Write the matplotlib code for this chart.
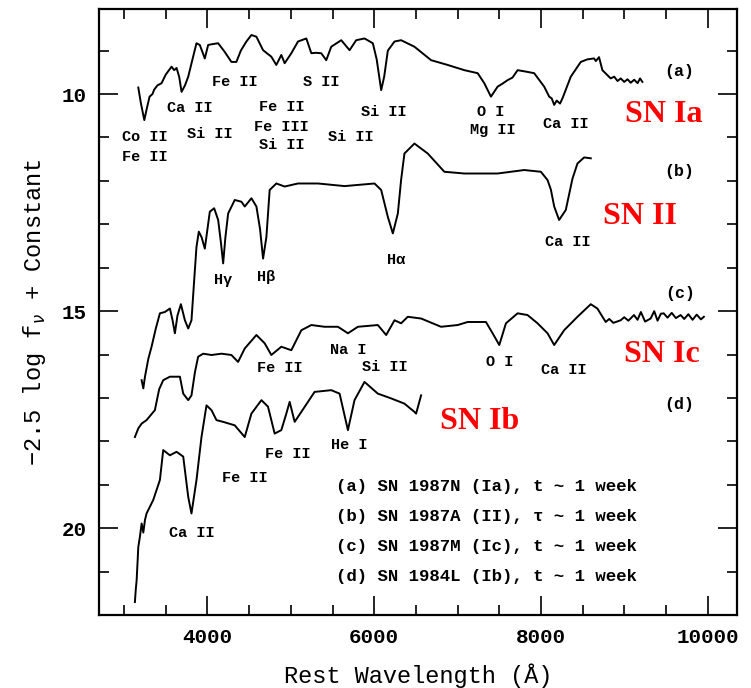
import matplotlib
matplotlib.use("Agg")
import matplotlib.pyplot as plt
from matplotlib.ticker import MultipleLocator

# ── Spectra (rest wavelength in Å, -2.5 log f_nu + const) ──────────────────────
wave_a = [3170, 3200, 3242, 3270, 3305, 3340, 3360, 3400, 3449, 3500, 3569, 3600,
          3629, 3660, 3689, 3730, 3769, 3820, 3868, 3908, 3968, 4008, 4060, 4128,
          4207, 4287, 4347, 4400, 4467, 4527, 4587, 4667, 4766, 4826, 4886, 4926,
          5006, 5086, 5186, 5246, 5300, 5365, 5425, 5485, 5605, 5705, 5784, 5884,
          5984, 6030, 6084, 6120, 6164, 6244, 6323, 6483, 6683, 6882, 7082, 7242,
          7321, 7401, 7481, 7540, 7601, 7660, 7721, 7840, 7920, 8040, 8100, 8130,
          8160, 8190, 8230, 8259, 8359, 8479, 8560, 8638, 8660, 8698, 8738, 8790,
          8838, 8880, 8920, 8958, 9000, 9040, 9078, 9120, 9160, 9190, 9218]
flux_a = [9.85, 10.2, 10.6, 10.35, 10.06, 10.0, 9.9, 9.8, 9.75, 9.55, 9.37, 9.45,
          9.4, 9.6, 9.95, 9.8, 9.6, 9.2, 8.83, 8.87, 9.18, 8.87, 8.85, 8.83,
          9.03, 9.26, 9.26, 9.0, 8.79, 8.64, 8.68, 8.99, 9.14, 9.33, 9.1, 9.29,
          9.06, 8.79, 8.72, 9.06, 9.05, 9.06, 9.22, 8.91, 8.76, 8.99, 8.76, 8.72,
          8.83, 9.2, 9.91, 9.6, 9.0, 8.79, 8.76, 8.91, 9.22, 9.33, 9.45, 9.52,
          9.75, 10.06, 9.83, 9.76, 9.68, 9.62, 9.45, 9.49, 9.52, 9.83, 10.06, 10.1,
          10.25, 10.15, 10.22, 10.1, 9.6, 9.26, 9.2, 9.18, 9.24, 9.15, 9.45, 9.55,
          9.64, 9.6, 9.7, 9.64, 9.72, 9.66, 9.74, 9.67, 9.75, 9.64, 9.72]

wave_b = [3210, 3230, 3250, 3290, 3329, 3380, 3429, 3489, 3549, 3580, 3609, 3640,
          3681, 3729, 3769, 3808, 3840, 3868, 3896, 3930, 3968, 4028, 4080, 4128,
          4160, 4188, 4215, 4248, 4327, 4407, 4447, 4527, 4587, 4630, 4667, 4707,
          4746, 4826, 4926, 5086, 5326, 5645, 6004, 6084, 6164, 6224, 6284, 6323,
          6363, 6483, 6643, 6842, 7082, 7481, 7800, 8000, 8080, 8120, 8160, 8219,
          8299, 8379, 8439, 8519, 8599]
flux_b = [16.59, 16.78, 16.51, 16.1, 15.82, 15.4, 15.05, 15.02, 14.94, 15.2, 15.51, 15.1,
          14.84, 15.21, 15.4, 15.21, 14.3, 13.52, 13.17, 13.3, 13.56, 12.71, 12.63, 12.9,
          13.4, 13.9, 13.3, 12.75, 12.44, 12.48, 12.59, 12.4, 12.59, 13.1, 13.79, 13.29,
          12.21, 12.06, 12.13, 12.06, 12.06, 12.12, 12.06, 12.21, 12.83, 13.21, 12.75, 11.98,
          11.37, 11.14, 11.37, 11.79, 11.83, 11.83, 11.75, 11.79, 11.98, 12.2, 12.59, 12.9,
          12.67, 11.95, 11.6, 11.46, 11.48]

wave_c = [3129, 3170, 3210, 3269, 3369, 3420, 3469, 3549, 3669, 3709, 3769, 3808,
          3850, 3888, 3948, 4048, 4168, 4287, 4367, 4447, 4587, 4686, 4766, 4886,
          5006, 5126, 5246, 5405, 5565, 5685, 5805, 6044, 6144, 6244, 6323, 6403,
          6563, 6802, 7002, 7122, 7341, 7421, 7501, 7581, 7721, 7840, 7960, 8080,
          8160, 8279, 8439, 8599, 8678, 8778, 8820, 8870, 8958, 9000, 9050, 9117,
          9160, 9200, 9250, 9317, 9360, 9400, 9440, 9473, 9520, 9570, 9620, 9677,
          9720, 9770, 9820, 9870, 9920, 9956]
flux_c = [17.9, 17.7, 17.59, 17.51, 17.28, 16.8, 16.59, 16.51, 16.51, 16.9, 17.05, 16.94,
          16.4, 16.05, 15.98, 16.01, 15.98, 16.01, 16.17, 15.86, 15.55, 15.74, 16.01, 15.82,
          15.9, 15.44, 15.32, 15.36, 15.36, 15.51, 15.36, 15.32, 15.55, 15.21, 15.28, 15.13,
          15.17, 15.36, 15.32, 15.25, 15.25, 15.51, 15.78, 15.28, 15.05, 15.09, 15.28, 15.51,
          15.78, 15.44, 15.13, 14.84, 14.94, 15.25, 15.18, 15.27, 15.21, 15.14, 15.22, 15.09,
          15.2, 15.02, 15.24, 15.17, 15.0, 15.22, 15.06, 15.05, 15.15, 15.04, 15.16, 15.09,
          15.18, 15.07, 15.2, 15.08, 15.19, 15.13]

wave_d = [3129, 3140, 3150, 3170, 3189, 3210, 3230, 3250, 3269, 3349, 3429, 3469,
          3549, 3629, 3709, 3769, 3808, 3868, 3928, 3988, 4048, 4108, 4188, 4327,
          4447, 4527, 4647, 4726, 4806, 4886, 4946, 4986, 5046, 5126, 5285, 5485,
          5585, 5685, 5764, 5884, 6044, 6204, 6363, 6483, 6503, 6563]
flux_d = [21.7, 21.4, 21.2, 20.43, 20.2, 19.89, 20.1, 19.81, 19.66, 19.35, 18.89, 18.2,
          18.32, 18.24, 18.35, 19.28, 19.66, 18.89, 17.9, 17.17, 17.28, 17.51, 17.55, 17.63,
          17.9, 17.36, 17.05, 17.2, 17.82, 17.74, 17.36, 17.09, 17.55, 17.32, 16.86, 16.82,
          16.9, 17.74, 17.05, 16.63, 16.9, 17.01, 17.13, 17.32, 17.36, 16.94]

# ── Line identifications: (text, wavelength, y) ───────────────────────────────
line_ids = [
    ("Co II", 3249, 10.98), ("Fe II", 3249, 11.44), ("Ca II", 3788, 10.33),
    ("Si II", 4028, 10.91), ("Fe II", 4327, 9.72), ("Fe II", 4886, 10.29),
    ("Fe III", 4886, 10.75), ("Si II", 4886, 11.18), ("S II", 5365, 9.72),
    ("Si II", 5725, 10.98), ("Si II", 6120, 10.41), ("O I", 7401, 10.41),
    ("Mg II", 7421, 10.83), ("Ca II", 8299, 10.69),
    ("Ca II", 8320, 13.40), ("Hα", 6263, 13.82), ("Hγ", 4188, 14.29),
    ("Hβ", 4707, 14.21),
    ("Ca II", 8279, 16.36), ("O I", 7500, 16.17), ("Si II", 6124, 16.28),
    ("Na I", 5685, 15.90), ("Fe II", 4866, 16.32),
    ("He I", 5704, 18.09), ("Fe II", 4966, 18.28), ("Fe II", 4447, 18.85),
    ("Ca II", 3808, 20.12),
]
panel_tags = [("(a)", 9656, 9.49), ("(b)", 9656, 11.79), ("(c)", 9668, 14.59), ("(d)", 9665, 17.14)]
type_names = [("SN Ia", 9477, 10.48), ("SN II", 9186, 12.83), ("SN Ic", 9457, 16.01), ("SN Ib", 7261, 17.55)]
legend_lines = [
    "(a) SN 1987N (Ia), t ~ 1 week",
    "(b) SN 1987A (II), τ ~ 1 week",
    "(c) SN 1987M (Ic), t ~ 1 week",
    "(d) SN 1984L (Ib), t ~ 1 week",
]
legend_y = [19.03, 19.72, 20.41, 21.11]

MONO = ["Liberation Mono", "DejaVu Sans Mono"]

fig = plt.figure(figsize=(7.51, 6.88), dpi=100)
ax = fig.add_axes([0.132, 0.106, 0.849, 0.881])

for w, f in [(wave_a, flux_a), (wave_b, flux_b), (wave_c, flux_c), (wave_d, flux_d)]:
    ax.plot(w, f, color="black", lw=1.4)

for txt, x, y in line_ids:
    ax.text(x, y, txt, ha="center", va="center", fontsize=11, fontweight="bold", family=MONO)
for txt, x, y in panel_tags:
    ax.text(x, y, txt, ha="center", va="center", fontsize=12, fontweight="bold", family=MONO)
for txt, x, y in type_names:
    ax.text(x, y, txt, ha="center", va="center", fontsize=23, fontweight="bold",
            color="red", family="Liberation Serif")
for txt, y in zip(legend_lines, legend_y):
    ax.text(5545, y, txt, ha="left", va="center", fontsize=12.5, fontweight="bold", family=MONO)

ax.set_xlim(2700, 10350)
ax.set_ylim(22.0, 8.04)
ax.xaxis.set_major_locator(MultipleLocator(2000))
ax.xaxis.set_minor_locator(MultipleLocator(500))
ax.yaxis.set_major_locator(MultipleLocator(5))
ax.yaxis.set_minor_locator(MultipleLocator(1))
ax.tick_params(which="both", direction="in", top=True, right=True, width=1.2)
ax.tick_params(which="major", length=14, pad=9)
ax.tick_params(which="minor", length=7)
for lab in ax.get_xticklabels() + ax.get_yticklabels():
    lab.set_family(MONO)
    lab.set_fontweight("bold")
    lab.set_fontsize(15)
for s in ax.spines.values():
    s.set_linewidth(1.6)

ax.set_xlabel("Rest Wavelength (Å)", fontsize=17, family=MONO, labelpad=12)
ax.set_ylabel(r"−2.5 log f$_\nu$ + Constant", fontsize=17, family=MONO, labelpad=10)

fig.savefig("out.png", dpi=100)
